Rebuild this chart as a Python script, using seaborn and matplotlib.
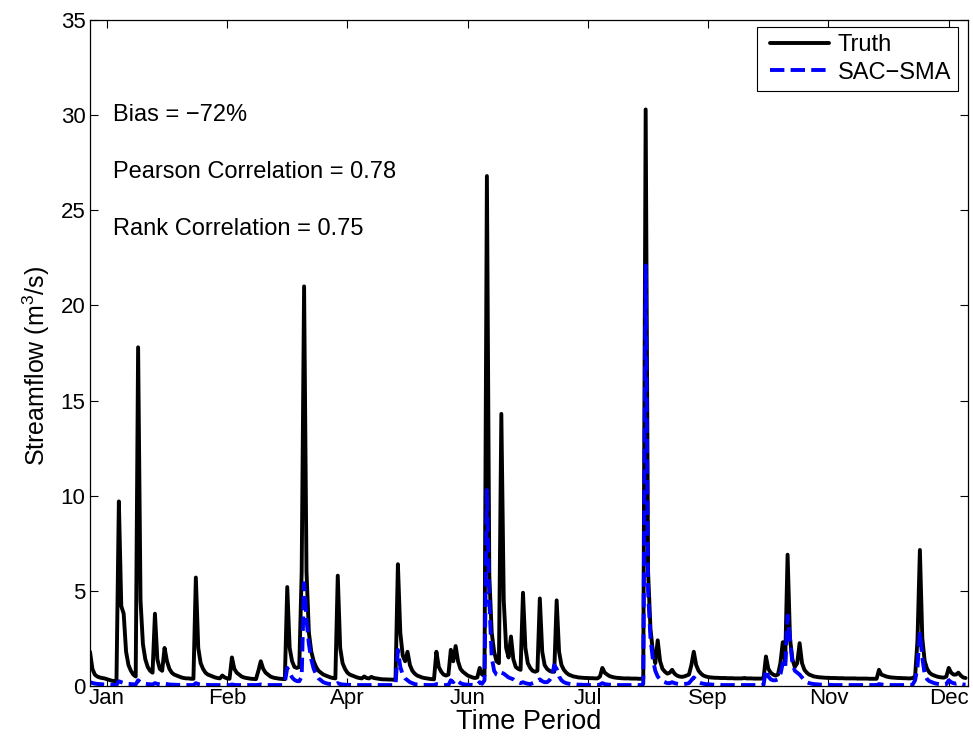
import numpy as np
import pandas as pd
import matplotlib
matplotlib.use("Agg")
import matplotlib.pyplot as plt
from matplotlib.lines import Line2D
from matplotlib.legend_handler import HandlerLine2D
import seaborn as sns

# ---------------- data (daily streamflow, m3/s) ----------------
truth_flow = [
    1.8, 0.9, 0.6, 0.5, 0.45, 0.42, 0.4, 0.36, 0.32, 0.28,
    0.26, 0.25, 9.7, 4.2, 3.8, 1.8, 1.1, 0.8, 0.6, 0.5,
    17.8, 4.5, 2.2, 1.4, 1.0, 0.8, 0.7, 3.8, 1.4, 0.9,
    0.8, 2.0, 1.3, 0.9, 0.7, 0.6, 0.55, 0.5, 0.45, 0.42,
    0.4, 0.4, 0.38, 0.38, 5.7, 2.0, 1.2, 0.9, 0.7, 0.6,
    0.55, 0.5, 0.45, 0.42, 0.4, 0.55, 0.45, 0.4, 0.38, 1.5,
    0.9, 0.7, 0.6, 0.5, 0.45, 0.42, 0.4, 0.38, 0.37, 0.36,
    0.8, 1.3, 0.9, 0.7, 0.6, 0.5, 0.45, 0.42, 0.4, 0.38,
    0.37, 0.36, 5.2, 2.0, 1.3, 1.0, 0.95, 1.0, 6.0, 21.0,
    6.0, 2.8, 1.8, 1.3, 1.0, 0.8, 0.7, 0.6, 0.55, 0.5,
    0.45, 0.42, 0.4, 5.8, 2.0, 1.2, 0.9, 0.7, 0.6, 0.55,
    0.5, 0.45, 0.42, 0.4, 0.5, 0.42, 0.4, 0.48, 0.42, 0.4,
    0.38, 0.36, 0.35, 0.35, 0.34, 0.34, 0.33, 0.33, 6.4, 2.8,
    1.6, 1.3, 1.8, 1.1, 0.8, 0.65, 0.55, 0.5, 0.45, 0.42,
    0.4, 0.38, 0.36, 0.35, 1.8, 1.0, 0.75, 0.6, 0.55, 0.6,
    1.9, 1.3, 2.1, 1.3, 0.9, 0.75, 0.65, 0.55, 0.5, 0.45,
    0.42, 0.45, 0.95, 0.6, 0.55, 26.8, 5.8, 2.8, 1.8, 1.3,
    1.2, 14.3, 4.5, 2.0, 1.5, 2.6, 1.4, 1.0, 0.9, 0.85,
    4.9, 2.0, 1.2, 0.95, 0.8, 0.75, 0.8, 4.6, 1.8, 1.1,
    0.9, 0.8, 0.75, 0.75, 4.5, 1.8, 1.1, 0.85, 0.7, 0.6,
    0.55, 0.5, 0.48, 0.45, 0.44, 0.43, 0.42, 0.42, 0.41, 0.41,
    0.4, 0.4, 0.5, 0.95, 0.7, 0.6, 0.52, 0.48, 0.45, 0.43,
    0.42, 0.41, 0.4, 0.4, 0.4, 0.39, 0.39, 0.39, 0.38, 0.38,
    0.38, 30.3, 6.0, 3.0, 1.8, 1.2, 2.4, 1.3, 0.9, 0.75,
    0.65, 0.7, 0.85, 0.65, 0.55, 0.5, 0.48, 0.5, 0.55, 0.6,
    1.1, 1.8, 1.1, 0.8, 0.65, 0.55, 0.5, 0.47, 0.45, 0.44,
    0.43, 0.43, 0.42, 0.42, 0.42, 0.41, 0.41, 0.41, 0.4, 0.4,
    0.4, 0.4, 0.42, 0.4, 0.4, 0.4, 0.39, 0.39, 0.39, 0.39,
    0.4, 1.55, 0.9, 0.7, 0.6, 0.55, 0.6, 1.2, 2.3, 1.3,
    6.9, 2.5, 1.4, 1.0, 1.2, 2.25, 1.2, 0.85, 0.7, 0.6,
    0.55, 0.5, 0.48, 0.46, 0.45, 0.44, 0.43, 0.43, 0.42, 0.42,
    0.42, 0.41, 0.41, 0.41, 0.4, 0.4, 0.4, 0.4, 0.4, 0.39,
    0.39, 0.39, 0.39, 0.39, 0.38, 0.38, 0.38, 0.38, 0.85, 0.6,
    0.55, 0.5, 0.47, 0.45, 0.44, 0.43, 0.42, 0.42, 0.41, 0.41,
    0.4, 0.4, 0.42, 0.5, 2.4, 7.15, 2.5, 1.3, 0.9, 0.7,
    0.6, 0.55, 0.5, 0.47, 0.45, 0.44, 0.5, 0.95, 0.7, 0.6,
    0.6, 0.7, 0.55, 0.45, 0.42,
]

sac_flow = [
    0.2, 0.16, 0.13, 0.11, 0.1, 0.09, 0.08, 0.07, 0.07, 0.06,
    0.06, 0.06, 0.25, 0.2, 0.16, 0.13, 0.11, 0.1, 0.09, 0.08,
    0.3, 0.2, 0.15, 0.12, 0.1, 0.09, 0.08, 0.15, 0.11, 0.09,
    0.08, 0.12, 0.1, 0.08, 0.07, 0.07, 0.06, 0.06, 0.06, 0.05,
    0.05, 0.05, 0.05, 0.05, 0.15, 0.1, 0.08, 0.07, 0.06, 0.06,
    0.05, 0.05, 0.05, 0.05, 0.05, 0.05, 0.05, 0.05, 0.05, 0.08,
    0.06, 0.05, 0.05, 0.05, 0.05, 0.05, 0.05, 0.05, 0.05, 0.05,
    0.06, 0.08, 0.06, 0.05, 0.05, 0.05, 0.05, 0.05, 0.05, 0.05,
    0.05, 0.2, 0.95, 0.7, 0.45, 0.32, 0.26, 0.25, 0.5, 5.4,
    3.5, 2.2, 1.4, 0.9, 0.6, 0.4, 0.3, 0.2, 0.15, 0.12,
    0.1, 0.09, 0.08, 0.15, 0.1, 0.08, 0.07, 0.06, 0.06, 0.05,
    0.05, 0.05, 0.05, 0.05, 0.05, 0.05, 0.05, 0.05, 0.05, 0.05,
    0.05, 0.05, 0.05, 0.05, 0.05, 0.05, 0.05, 0.05, 1.9, 1.0,
    0.6, 0.4, 0.3, 0.2, 0.15, 0.1, 0.08, 0.07, 0.06, 0.06,
    0.05, 0.05, 0.05, 0.05, 0.1, 0.08, 0.06, 0.05, 0.05, 0.05,
    0.3, 0.2, 0.35, 0.25, 0.15, 0.1, 0.08, 0.07, 0.06, 0.06,
    0.05, 0.06, 0.2, 0.12, 0.3, 10.3, 4.5, 1.5, 0.8, 0.6,
    0.55, 0.7, 0.65, 0.55, 0.45, 0.4, 0.35, 0.25, 0.2, 0.15,
    0.2, 0.15, 0.12, 0.1, 0.15, 0.2, 0.25, 0.35, 0.25, 0.2,
    0.2, 0.3, 0.5, 1.1, 0.9, 0.5, 0.3, 0.2, 0.15, 0.12,
    0.1, 0.09, 0.08, 0.07, 0.07, 0.06, 0.06, 0.06, 0.05, 0.05,
    0.05, 0.05, 0.08, 0.15, 0.1, 0.08, 0.07, 0.06, 0.06, 0.05,
    0.05, 0.05, 0.05, 0.05, 0.05, 0.05, 0.05, 0.05, 0.05, 0.05,
    0.1, 22.1, 5.0, 2.5, 1.4, 0.8, 0.5, 0.35, 0.25, 0.2,
    0.15, 0.15, 0.2, 0.15, 0.12, 0.1, 0.09, 0.1, 0.12, 0.15,
    0.3, 0.45, 0.3, 0.2, 0.15, 0.12, 0.1, 0.09, 0.08, 0.07,
    0.06, 0.06, 0.06, 0.05, 0.05, 0.05, 0.05, 0.05, 0.05, 0.05,
    0.05, 0.05, 0.05, 0.05, 0.05, 0.05, 0.05, 0.05, 0.05, 0.05,
    0.06, 0.85, 0.5, 0.35, 0.3, 0.3, 0.35, 0.6, 1.2, 0.9,
    3.7, 2.5, 1.2, 0.8, 0.7, 0.6, 0.45, 0.3, 0.2, 0.15,
    0.12, 0.1, 0.09, 0.08, 0.07, 0.07, 0.06, 0.06, 0.06, 0.05,
    0.05, 0.05, 0.05, 0.05, 0.05, 0.05, 0.05, 0.05, 0.05, 0.05,
    0.05, 0.05, 0.05, 0.05, 0.05, 0.05, 0.05, 0.05, 0.1, 0.08,
    0.06, 0.06, 0.05, 0.05, 0.05, 0.05, 0.05, 0.05, 0.05, 0.05,
    0.05, 0.05, 0.08, 0.3, 1.0, 2.85, 1.5, 0.6, 0.35, 0.25,
    0.2, 0.15, 0.12, 0.1, 0.09, 0.08, 0.1, 0.3, 0.2, 0.15,
    0.12, 0.15, 0.1, 0.08, 0.07,
]

tick_days = [7, 57, 107, 157, 207, 257, 307, 357]
tick_labels = ["Jan", "Feb", "Apr", "Jun", "Jul", "Sep", "Nov", "Dec"]
y_ticks = [0, 5, 10, 15, 20, 25, 30, 35]
stats_text = ["Bias = \u221272%", "Pearson Correlation = 0.78", "Rank Correlation = 0.75"]
stats_y = [30, 27, 24]

days = np.arange(len(truth_flow))
df_truth = pd.DataFrame({"day": days, "flow": truth_flow})
df_sac = pd.DataFrame({"day": days[:len(sac_flow)], "flow": sac_flow})

# ---------------- style ----------------
sns.set_style("ticks")
plt.rcParams["font.family"] = ["Liberation Sans", "DejaVu Sans"]
plt.rcParams["mathtext.fontset"] = "custom"
plt.rcParams["mathtext.rm"] = "Liberation Sans"
plt.rcParams["mathtext.it"] = "Liberation Sans:italic"
plt.rcParams["text.color"] = "black"
plt.rcParams["axes.labelcolor"] = "black"
plt.rcParams["xtick.color"] = "black"
plt.rcParams["ytick.color"] = "black"
plt.rcParams["axes.edgecolor"] = "black"

fig = plt.figure(figsize=(9.73, 7.46), dpi=100)
ax = fig.add_axes([90 / 973, 60 / 746, 878 / 973, 666 / 746])

sns.lineplot(data=df_truth, x="day", y="flow", ax=ax, color="black",
             linewidth=2.8, label="Truth", errorbar=None)
sns.lineplot(data=df_sac, x="day", y="flow", ax=ax, color="#0000ff",
             linewidth=2.8, linestyle="--", dashes=(4.3, 3.7),
             label="SAC\u2212SMA", errorbar=None)

ax.set_xlim(0, 365)
ax.set_ylim(0, 35)
ax.set_xticks(tick_days)
ax.set_xticklabels(tick_labels)
ax.set_yticks(y_ticks)
ax.tick_params(direction="in", top=True, right=True, length=6, width=0.8,
               labelsize=16, colors="black")
ax.tick_params(axis="x", pad=1.5)
ax.tick_params(axis="y", pad=3.3)
for sp in ax.spines.values():
    sp.set_visible(True)
    sp.set_linewidth(0.9)
    sp.set_color("black")

ax.set_xlabel("Time Period", fontsize=19.5, labelpad=0, color="black")
ax.set_ylabel(r"Streamflow (m$^{\mathregular{3}}$/s)", fontsize=18, labelpad=6,
              color="black")
ax.yaxis.label.set_y(0.48)

for txt, yv in zip(stats_text, stats_y):
    ax.text(9.5, yv, txt, fontsize=17, va="center", ha="left", color="black")

handles, labels = ax.get_legend_handles_labels()
leg = ax.legend(handles, labels, loc="upper right",
                bbox_to_anchor=(958 / 973, 1 - 27 / 746),
                bbox_transform=fig.transFigure, borderaxespad=0,
                fontsize=17, frameon=True, fancybox=False,
                framealpha=1, edgecolor="black",
                handlelength=2.75, handletextpad=0.37, labelspacing=0.23,
                borderpad=0.3,
                handler_map={Line2D: HandlerLine2D(xpad=0.25)})
leg.get_frame().set_linewidth(0.8)
for t in leg.get_texts():
    t.set_color("black")

fig.savefig("out.png", dpi=100)
